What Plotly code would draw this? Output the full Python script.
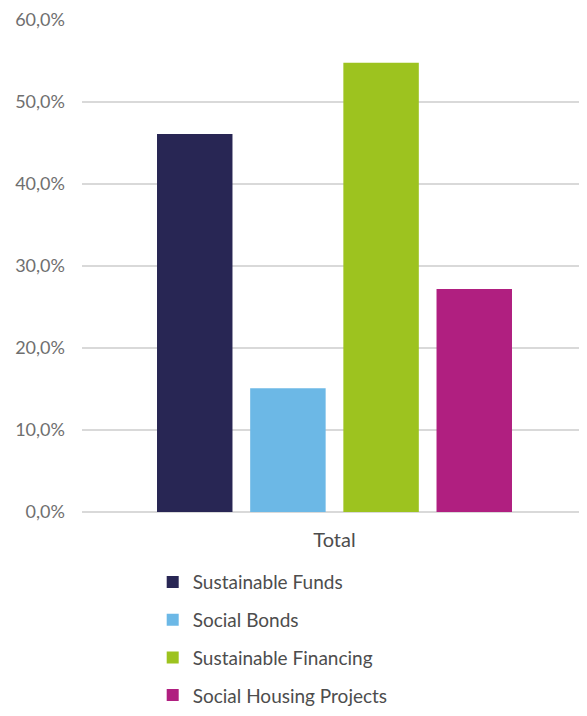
import plotly.graph_objects as go

categories = ["Total"]
series_names = ["Sustainable Funds", "Social Bonds", "Sustainable Financing", "Social Housing Projects"]
series_values = [46.1, 15.1, 54.8, 27.2]
series_colors = ["#282654", "#6cb8e6", "#9dc31f", "#b01f80"]
tick_values = [0, 10, 20, 30, 40, 50, 60]
tick_labels = ["0,0%", "10,0%", "20,0%", "30,0%", "40,0%", "50,0%", "60,0%"]

fig = go.Figure()
for name, val, col in zip(series_names, series_values, series_colors):
    fig.add_trace(go.Bar(
        x=categories, y=[val], name=name, marker=dict(color=col, line=dict(width=0)),
        legendgroup=name,
    ))

fig.update_layout(
    width=579, height=700,
    margin=dict(l=74, r=0, t=11.5, b=196, autoexpand=False),
    paper_bgcolor="white", plot_bgcolor="white",
    font=dict(family="Lato, 'Open Sans', sans-serif", size=18, color="#4d4d4d"),
    barmode="group", bargap=0.262, bargroupgap=0.19,
    showlegend=True,
    legend=dict(
        orientation="v", x=0.14, xanchor="left", y=-0.104, yanchor="top",
        font=dict(size=19, color="#4d4d4d"), tracegroupgap=10,
        itemwidth=30, bgcolor="rgba(0,0,0,0)",
    ),
    xaxis=dict(showgrid=False, showline=False, ticks="", ticklabelstandoff=14,
               tickfont=dict(size=20, color="#4d4d4d")),
    yaxis=dict(
        range=[0, 60], tickvals=tick_values, ticktext=tick_labels,
        showgrid=True, gridcolor="#d9d9d9", gridwidth=1.5,
        zeroline=True, zerolinecolor="#d9d9d9", zerolinewidth=1.5,
        showline=False, ticks="", tickfont=dict(size=18, color="#6f6f6f"),
        ticklabelstandoff=16,
    ),
)

fig.write_html("out.html")
